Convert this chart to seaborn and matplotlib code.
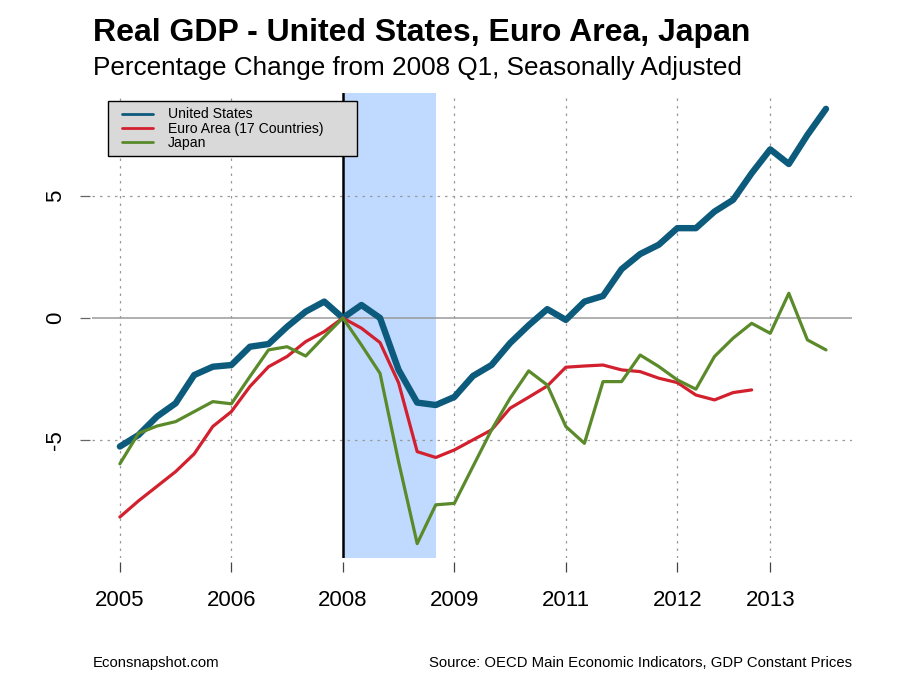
import matplotlib
matplotlib.use("Agg")
import matplotlib.pyplot as plt
import seaborn as sns
import pandas as pd
import numpy as np
from matplotlib.patches import Rectangle
from matplotlib.lines import Line2D

# ---- data (percentage change from 2008 Q1), quarterly from 2005 Q1 ----
us = [-5.27, -4.80, -4.04, -3.50, -2.34, -2.00, -1.93, -1.18, -1.07, -0.36,
      0.26, 0.67, 0.00, 0.53, 0.00, -2.13, -3.47, -3.57, -3.24, -2.38,
      -1.93, -1.03, -0.30, 0.36, -0.08, 0.67, 0.90, 2.00, 2.62, 3.00,
      3.68, 3.68, 4.36, 4.84, 5.93, 6.91, 6.31, 7.50, 8.57]
euro = [-8.16, -7.50, -6.90, -6.30, -5.57, -4.45, -3.84, -2.81, -2.00, -1.58,
        -0.97, -0.56, 0.00, -0.42, -1.01, -2.66, -5.48, -5.72, -5.41, -5.00,
        -4.59, -3.70, -3.25, -2.79, -2.02, -1.97, -1.93, -2.13, -2.20, -2.47,
        -2.65, -3.16, -3.36, -3.06, -2.95]
japan = [-5.98, -4.73, -4.43, -4.25, -3.84, -3.43, -3.52, -2.40, -1.31, -1.18,
         -1.56, -0.77, 0.00, -1.11, -2.27, -5.90, -9.25, -7.66, -7.60, -6.09,
         -4.59, -3.29, -2.17, -2.75, -4.45, -5.14, -2.61, -2.61, -1.52, -1.99,
         -2.54, -2.92, -1.58, -0.83, -0.22, -0.63, 1.01, -0.90, -1.31]
series_names = ["United States", "Euro Area (17 Countries)", "Japan"]
tick_pos = [2005.0, 2006.5, 2008.0, 2009.5, 2011.0, 2012.5, 2013.75]
tick_labels = ["2005", "2006", "2008", "2009", "2011", "2012", "2013"]
y_ticks = [-5, 0, 5]
recession = (2008.0, 2009.25)

colors = ["#0C5A7C", "#D2202E", "#5A8A2A"]
widths = [4.6, 2.3, 2.3]

def qdates(n):
    return [2005 + k / 4 for k in range(n)]

frames = []
for name, vals in zip(series_names, [us, euro, japan]):
    frames.append(pd.DataFrame({"date": qdates(len(vals)), "value": vals, "series": name}))
df = pd.concat(frames, ignore_index=True)

sns.set_theme(style="white")
plt.rcParams['font.family'] = ['Liberation Sans', 'DejaVu Sans']
plt.rcParams['text.color'] = 'black'

fig = plt.figure(figsize=(9, 6.8), dpi=100)
fig.patch.set_facecolor("white")
ax = fig.add_axes([92/900, 1-558/680, 760/900, 465/680])
ax.set_facecolor("white")

ax.set_xlim(2004.625, 2014.85)
ax.set_ylim(-9.84, 9.22)

# recession shading
ax.axvspan(*recession, color="#C0DAFF", lw=0, zorder=0)

# grid
for t in tick_pos:
    if t != 2008.0:
        ax.axvline(t, color="#9a9a9a", lw=0.9, ls=(0, (2, 4)), zorder=1)
for yv in y_ticks:
    if yv == 0:
        ax.axhline(0, color="#9a9a9a", lw=1.1, zorder=1)
    else:
        ax.axhline(yv, color="#9a9a9a", lw=0.9, ls=(0, (2, 4)), zorder=1)

ax.axvline(2008.0, color="black", lw=1.8, zorder=2)

for name, c, w in zip(series_names, colors, widths):
    sns.lineplot(data=df[df.series == name], x="date", y="value", color=c,
                 lw=w, ax=ax, zorder=3, solid_capstyle="round",
                 solid_joinstyle="round")

ax.set_xlabel("")
ax.set_ylabel("")
ax.set_xticks(tick_pos)
ax.set_xticklabels(tick_labels)
ax.set_yticks(y_ticks)
ax.set_yticklabels([str(v) for v in y_ticks])
for s in ax.spines.values():
    s.set_visible(False)
ax.spines['bottom'].set_position(('outward', 3))
ax.spines['left'].set_position(('outward', 1.5))
ax.tick_params(axis='x', bottom=True, length=7, width=0.9, color="#444444",
               pad=13, labelsize=16, labelcolor="black")
ax.tick_params(axis='y', left=True, length=7, width=0.9, color="#666666",
               pad=10, labelsize=16, labelcolor="black", labelrotation=90)
for lab in ax.get_yticklabels():
    lab.set_va("center")

# legend box (manual, R-style)
box = Rectangle((108/900, 1-156/680), 249/900, 55/680,
                transform=fig.transFigure, facecolor="#D9D9D9",
                edgecolor="black", lw=1.0, zorder=5, clip_on=False)
ax.add_artist(box)
handles = [Line2D([], [], color=c, lw=2) for c in colors]
leg = ax.legend(handles, series_names, loc="upper left",
                bbox_to_anchor=((122-92)/760, (558-107.5)/465),
                frameon=False, fontsize=10.1, handlelength=2.2,
                handletextpad=1.1, labelspacing=0.0, borderaxespad=0,
                borderpad=0)
leg.set_zorder(6)
for t in leg.get_texts():
    t.set_color("black")

fig.text(93/900, 1-33/680, "Real GDP - United States, Euro Area, Japan",
         fontsize=23, fontweight="bold", ha="left", va="center", color="black")
fig.text(93/900, 1-68/680, "Percentage Change from 2008 Q1, Seasonally Adjusted",
         fontsize=18.8, ha="left", va="center", color="black")
fig.text(93/900, 1-663/680, "Econsnapshot.com", fontsize=10.7, ha="left",
         va="center", color="black")
fig.text(852/900, 1-663/680, "Source: OECD Main Economic Indicators, GDP Constant Prices",
         fontsize=10.7, ha="right", va="center", color="black")

fig.savefig("out.png", dpi=100)
